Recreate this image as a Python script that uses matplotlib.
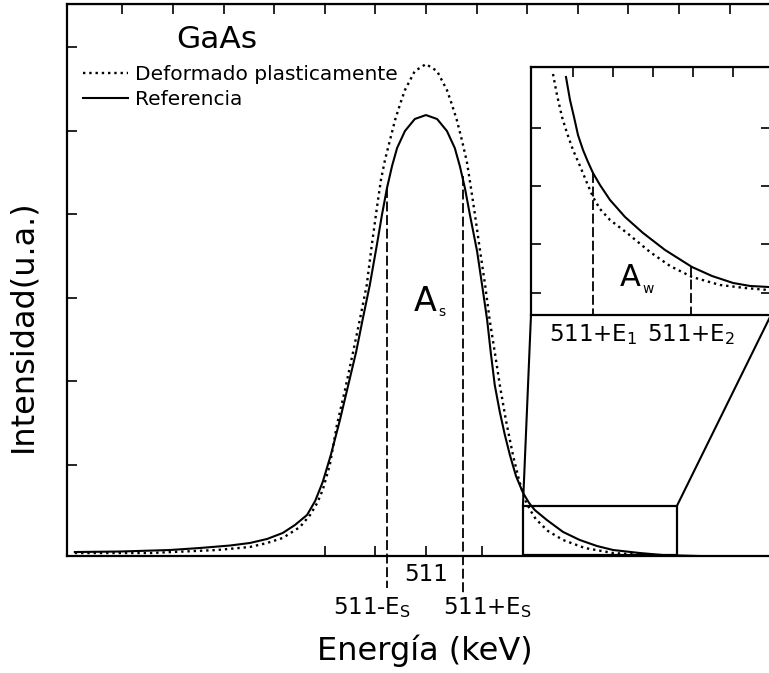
import matplotlib
matplotlib.use("Agg")
import matplotlib.pyplot as plt
from matplotlib.patches import Rectangle, ConnectionPatch

plt.rcParams['font.family'] = ['DejaVu Sans']
plt.rcParams['mathtext.fontset'] = 'dejavusans'

##############################################################################
# Data: energy in keV, intensity in arbitrary units
##############################################################################

e_ref = [504.06, 504.95, 505.94, 506.53, 507.13, 507.52, 507.86, 508.17,
         508.41, 508.65, 508.81, 508.96, 509.12, 509.30, 509.46, 509.62,
         509.755, 509.89, 510.03, 510.13, 510.23, 510.33, 510.43, 510.585,
         510.78, 511.00, 511.22, 511.415, 511.57, 511.67, 511.77, 511.87,
         512.01, 512.11, 512.21, 512.28, 512.36, 512.46, 512.56, 512.66,
         512.78, 512.92, 513.04, 513.15, 513.39, 513.71, 514.04, 514.38,
         514.70, 515.23, 515.68, 516.42, 517.84]
i_ref = [-0.041, -0.035, -0.017, 0.007, 0.037, 0.067, 0.115, 0.187,
         0.282, 0.402, 0.569, 0.797, 1.120, 1.538, 1.945, 2.352,
         2.758, 3.152, 3.632, 3.990, 4.313, 4.576, 4.792, 4.995,
         5.139, 5.186, 5.139, 4.995, 4.792, 4.576, 4.313, 3.990,
         3.560, 3.152, 2.734, 2.352, 1.957, 1.634, 1.359, 1.118,
         0.868, 0.665, 0.545, 0.462, 0.342, 0.199, 0.103, 0.031,
         -0.017, -0.053, -0.077, -0.089, -0.089]

e_def = [504.06, 505.55, 506.87, 507.52, 507.86, 508.17, 508.51, 508.71,
         508.85, 508.96, 509.10, 509.24, 509.40, 509.56, 509.70, 509.83,
         509.93, 510.03, 510.11, 510.19, 510.29, 510.39, 510.49, 510.585,
         510.78, 511.00, 511.22, 511.415, 511.51, 511.61, 511.71, 511.81,
         511.89, 511.97, 512.07, 512.17, 512.26, 512.36, 512.46, 512.58,
         512.72, 512.84, 512.96, 513.06, 513.17, 513.41, 513.71, 514.14,
         514.70, 515.68, 517.84]
i_def = [-0.053, -0.053, -0.017, 0.019, 0.067, 0.127, 0.258, 0.402,
         0.545, 0.701, 1.000, 1.478, 1.897, 2.352, 2.758, 3.152,
         3.632, 4.074, 4.409, 4.648, 4.888, 5.127, 5.318, 5.485,
         5.712, 5.796, 5.712, 5.485, 5.318, 5.127, 4.888, 4.624,
         4.313, 3.990, 3.560, 3.152, 2.734, 2.352, 1.957, 1.538,
         1.118, 0.820, 0.581, 0.462, 0.354, 0.211, 0.103, 0.007,
         -0.053, -0.089, -0.100]

# window markers
e_s_low, e_s_high = 510.23, 511.73
i_s_low, i_s_high = 4.313, 4.456

# zoom box on the tail
box_e = (512.917, 515.96)
box_i = (-0.077, 0.510)

# inset (tail region, its own scale)
x_in_ref = [-0.175, -0.075, 0.025, 0.125, 0.25, 0.375, 0.5, 0.675, 0.925,
            1.3, 1.75, 2.3, 2.975, 3.475, 4.0, 4.425, 4.875, 4.975]
y_in_ref = [3.879, 3.483, 3.190, 2.879, 2.621, 2.414, 2.224, 2.017, 1.759,
            1.466, 1.190, 0.897, 0.603, 0.448, 0.328, 0.276, 0.259, 0.250]
x_in_def = [-0.5, -0.4, -0.275, -0.15, 0.0, 0.175, 0.35, 0.5, 0.675, 0.925,
            1.35, 1.925, 2.425, 2.975, 3.675, 4.3, 4.875, 4.975]
y_in_def = [3.931, 3.569, 3.190, 2.914, 2.621, 2.345, 2.052, 1.810, 1.603,
            1.414, 1.190, 0.862, 0.621, 0.431, 0.293, 0.241, 0.207, 0.198]
e1_pos, e2_pos = 0.5, 2.95
e1_top, e2_top = 2.224, 0.62

main_top_ticks = list(range(505, 518))
main_bot_ticks = [509, 510, 511, 512.1]
main_bot_labels = ['', '', '511', '']
main_left_ticks = [1, 2, 3, 4, 5, 6]
inset_top_ticks = [0, 1, 2, 3, 4]
inset_side_ticks = [0.15, 1, 2, 3]

##############################################################################
# Main plot
##############################################################################

fig = plt.figure(figsize=(7.69, 6.73), dpi=100)
ax = fig.add_axes([0.0871, 0.1738, 0.9168, 0.8202])

ax.plot(e_def, i_def, color='black', linestyle=':', lw=1.7,
        label='Deformado plasticamente')
ax.plot(e_ref, i_ref, color='black', linestyle='-', lw=1.5,
        label='Referencia')

ax.set_xlim(503.905, 517.84)
ax.set_ylim(-0.089, 6.514)

for s in ax.spines.values():
    s.set_linewidth(1.6)

ax.set_xticks(main_bot_ticks)
ax.set_xticklabels(main_bot_labels)
ax.set_yticks(main_left_ticks)
ax.set_yticklabels([])
ax.tick_params(direction='in', length=7, width=1.2, labelsize=16.5, pad=5)

top = ax.secondary_xaxis('top')
top.set_xticks(main_top_ticks)
top.set_xticklabels([])
top.tick_params(direction='in', length=7, width=1.2)

# dashed window lines
dash = (0, (5.5, 2))
ax.plot([e_s_low, e_s_low], [i_s_low, -0.471], color='black', ls=dash,
        lw=1.3, clip_on=False)
ax.plot([e_s_high, e_s_high], [i_s_high, -0.531], color='black', ls=dash,
        lw=1.3, clip_on=False)
ax.text(509.93, -0.70, '511-E$_\\mathrm{S}$', fontsize=16.5, ha='center',
        va='center')
ax.text(512.21, -0.70, '511+E$_\\mathrm{S}$', fontsize=16.5, ha='center',
        va='center')

ax.text(510.98, 2.95, 'A', fontsize=24, ha='center', va='center')
ax.text(511.31, 2.83, 's', fontsize=10, ha='center', va='center')

ax.text(0.213, 0.935, 'GaAs', transform=ax.transAxes, fontsize=22.5,
        ha='center', va='center')

ax.legend(loc='upper left', bbox_to_anchor=(0.0227, 0.889), frameon=False,
          fontsize=14.5, handlelength=2.24, handletextpad=0.35,
          labelspacing=0.28, borderpad=0, borderaxespad=0)

ax.set_xlabel('Energía (keV)', fontsize=23)
ax.xaxis.set_label_coords(0.508, -0.143)
ax.set_ylabel('Intensidad(u.a.)', fontsize=23)
ax.yaxis.set_label_coords(-0.041, 0.418)

ax.add_patch(Rectangle((box_e[0], box_i[0]), box_e[1] - box_e[0],
                       box_i[1] - box_i[0], fill=False, lw=1.6,
                       edgecolor='black', zorder=3))

##############################################################################
# Inset
##############################################################################

axin = fig.add_axes([0.6905, 0.532, 0.3121, 0.3685])
axin.plot(x_in_def, y_in_def, color='black', linestyle=':', lw=1.7)
axin.plot(x_in_ref, y_in_ref, color='black', linestyle='-', lw=1.5)
axin.set_xlim(-1.05, 4.95)
axin.set_ylim(-0.224, 4.052)
for s in axin.spines.values():
    s.set_linewidth(1.6)

axin.plot([e1_pos, e1_pos], [e1_top, -0.224], color='black', ls=dash, lw=1.3)
axin.plot([e2_pos, e2_pos], [e2_top, -0.224], color='black', ls=dash, lw=1.3)

axin.set_xticks([e1_pos, e2_pos])
axin.set_xticklabels(['511+E$_1$', '511+E$_2$'])
axin.set_yticks(inset_side_ticks)
axin.set_yticklabels([])
axin.tick_params(axis='x', length=0, labelsize=16.5, pad=5)
axin.tick_params(axis='y', direction='in', length=7, width=1.2, right=True)

in_top = axin.secondary_xaxis('top')
in_top.set_xticks(inset_top_ticks)
in_top.set_xticklabels([])
in_top.tick_params(direction='in', length=7, width=1.2)

axin.text(1.425, 0.414, 'A', fontsize=22, ha='center', va='center')
axin.text(1.875, 0.22, 'w', fontsize=10, ha='center', va='center')

for xa, xb in [((0, 0), (box_e[0], box_i[1])), ((1, 0), (box_e[1], box_i[1]))]:
    con = ConnectionPatch(xyA=xa, coordsA=axin.transAxes, xyB=xb,
                          coordsB=ax.transData, color='black', lw=1.5)
    fig.add_artist(con)

fig.savefig('out.png', dpi=100)
